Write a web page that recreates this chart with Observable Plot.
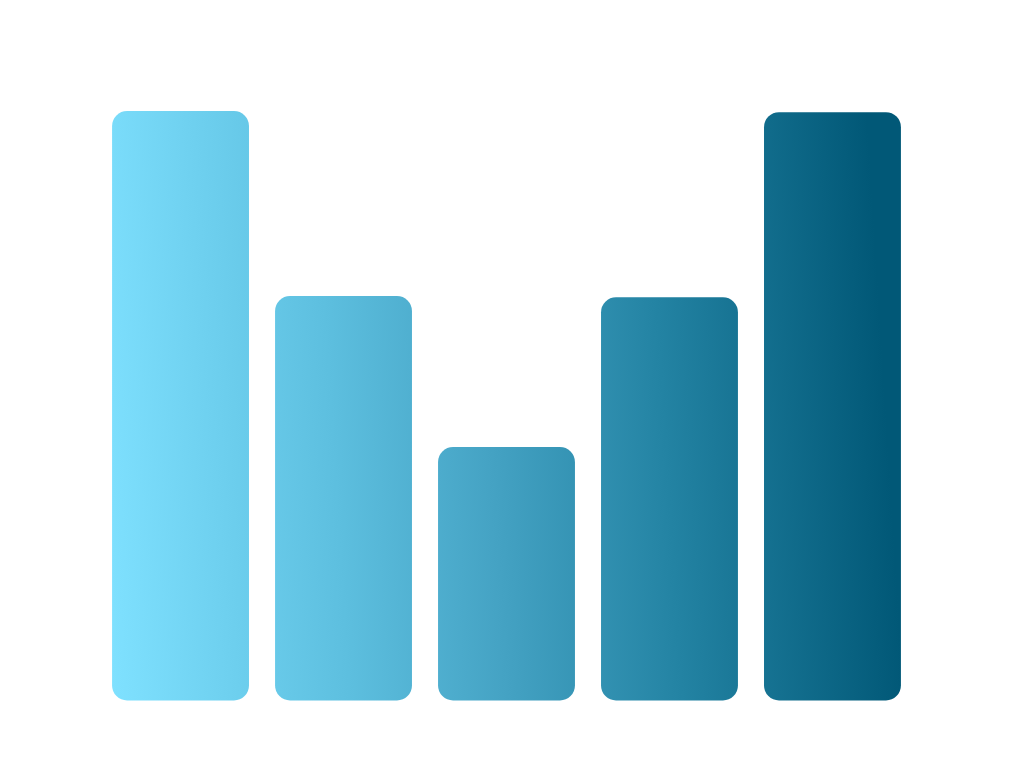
<!DOCTYPE html>
<html>
<head>
<meta charset="utf-8">
<script src="https://cdn.jsdelivr.net/npm/d3@7"></script>
<script src="https://cdn.jsdelivr.net/npm/@observablehq/plot@0.6"></script>
<style>
  html, body { margin: 0; padding: 0; background: #ffffff; }
  #chart svg { display: block; }
</style>
</head>
<body>
<div id="chart"></div>
<script>
const categories = ["A", "B", "C", "D", "E"];
const values = [100, 68.6, 43.0, 68.4, 99.8];
const gradientStops = [
  { offset: "0%", color: "#7fe1ff" },
  { offset: "30%", color: "#5dbfdf" },
  { offset: "50%", color: "#44a2c3" },
  { offset: "72%", color: "#2383a3" },
  { offset: "100%", color: "#015877" }
];

const data = categories.map((c, i) => ({ category: c, value: values[i] }));

const chart = Plot.plot({
  width: 1022,
  height: 778,
  marginLeft: 86,
  marginRight: 95,
  marginTop: 111,
  marginBottom: 77.5,
  x: { domain: categories, padding: 0.16, round: false, axis: null },
  y: { domain: [0, 100], axis: null },
  marks: [
    Plot.barY(data, {
      x: "category",
      y: "value",
      fill: "url(#barGradient)",
      rx: 15
    })
  ]
});

const ns = "http://www.w3.org/2000/svg";
const defs = document.createElementNS(ns, "defs");
const grad = document.createElementNS(ns, "linearGradient");
grad.setAttribute("id", "barGradient");
grad.setAttribute("gradientUnits", "userSpaceOnUse");
grad.setAttribute("x1", "112");
grad.setAttribute("y1", "700");
grad.setAttribute("x2", "901");
grad.setAttribute("y2", "650");
for (const s of gradientStops) {
  const stop = document.createElementNS(ns, "stop");
  stop.setAttribute("offset", s.offset);
  stop.setAttribute("stop-color", s.color);
  grad.appendChild(stop);
}
defs.appendChild(grad);
chart.insertBefore(defs, chart.firstChild);

document.getElementById("chart").appendChild(chart);
</script>
</body>
</html>
